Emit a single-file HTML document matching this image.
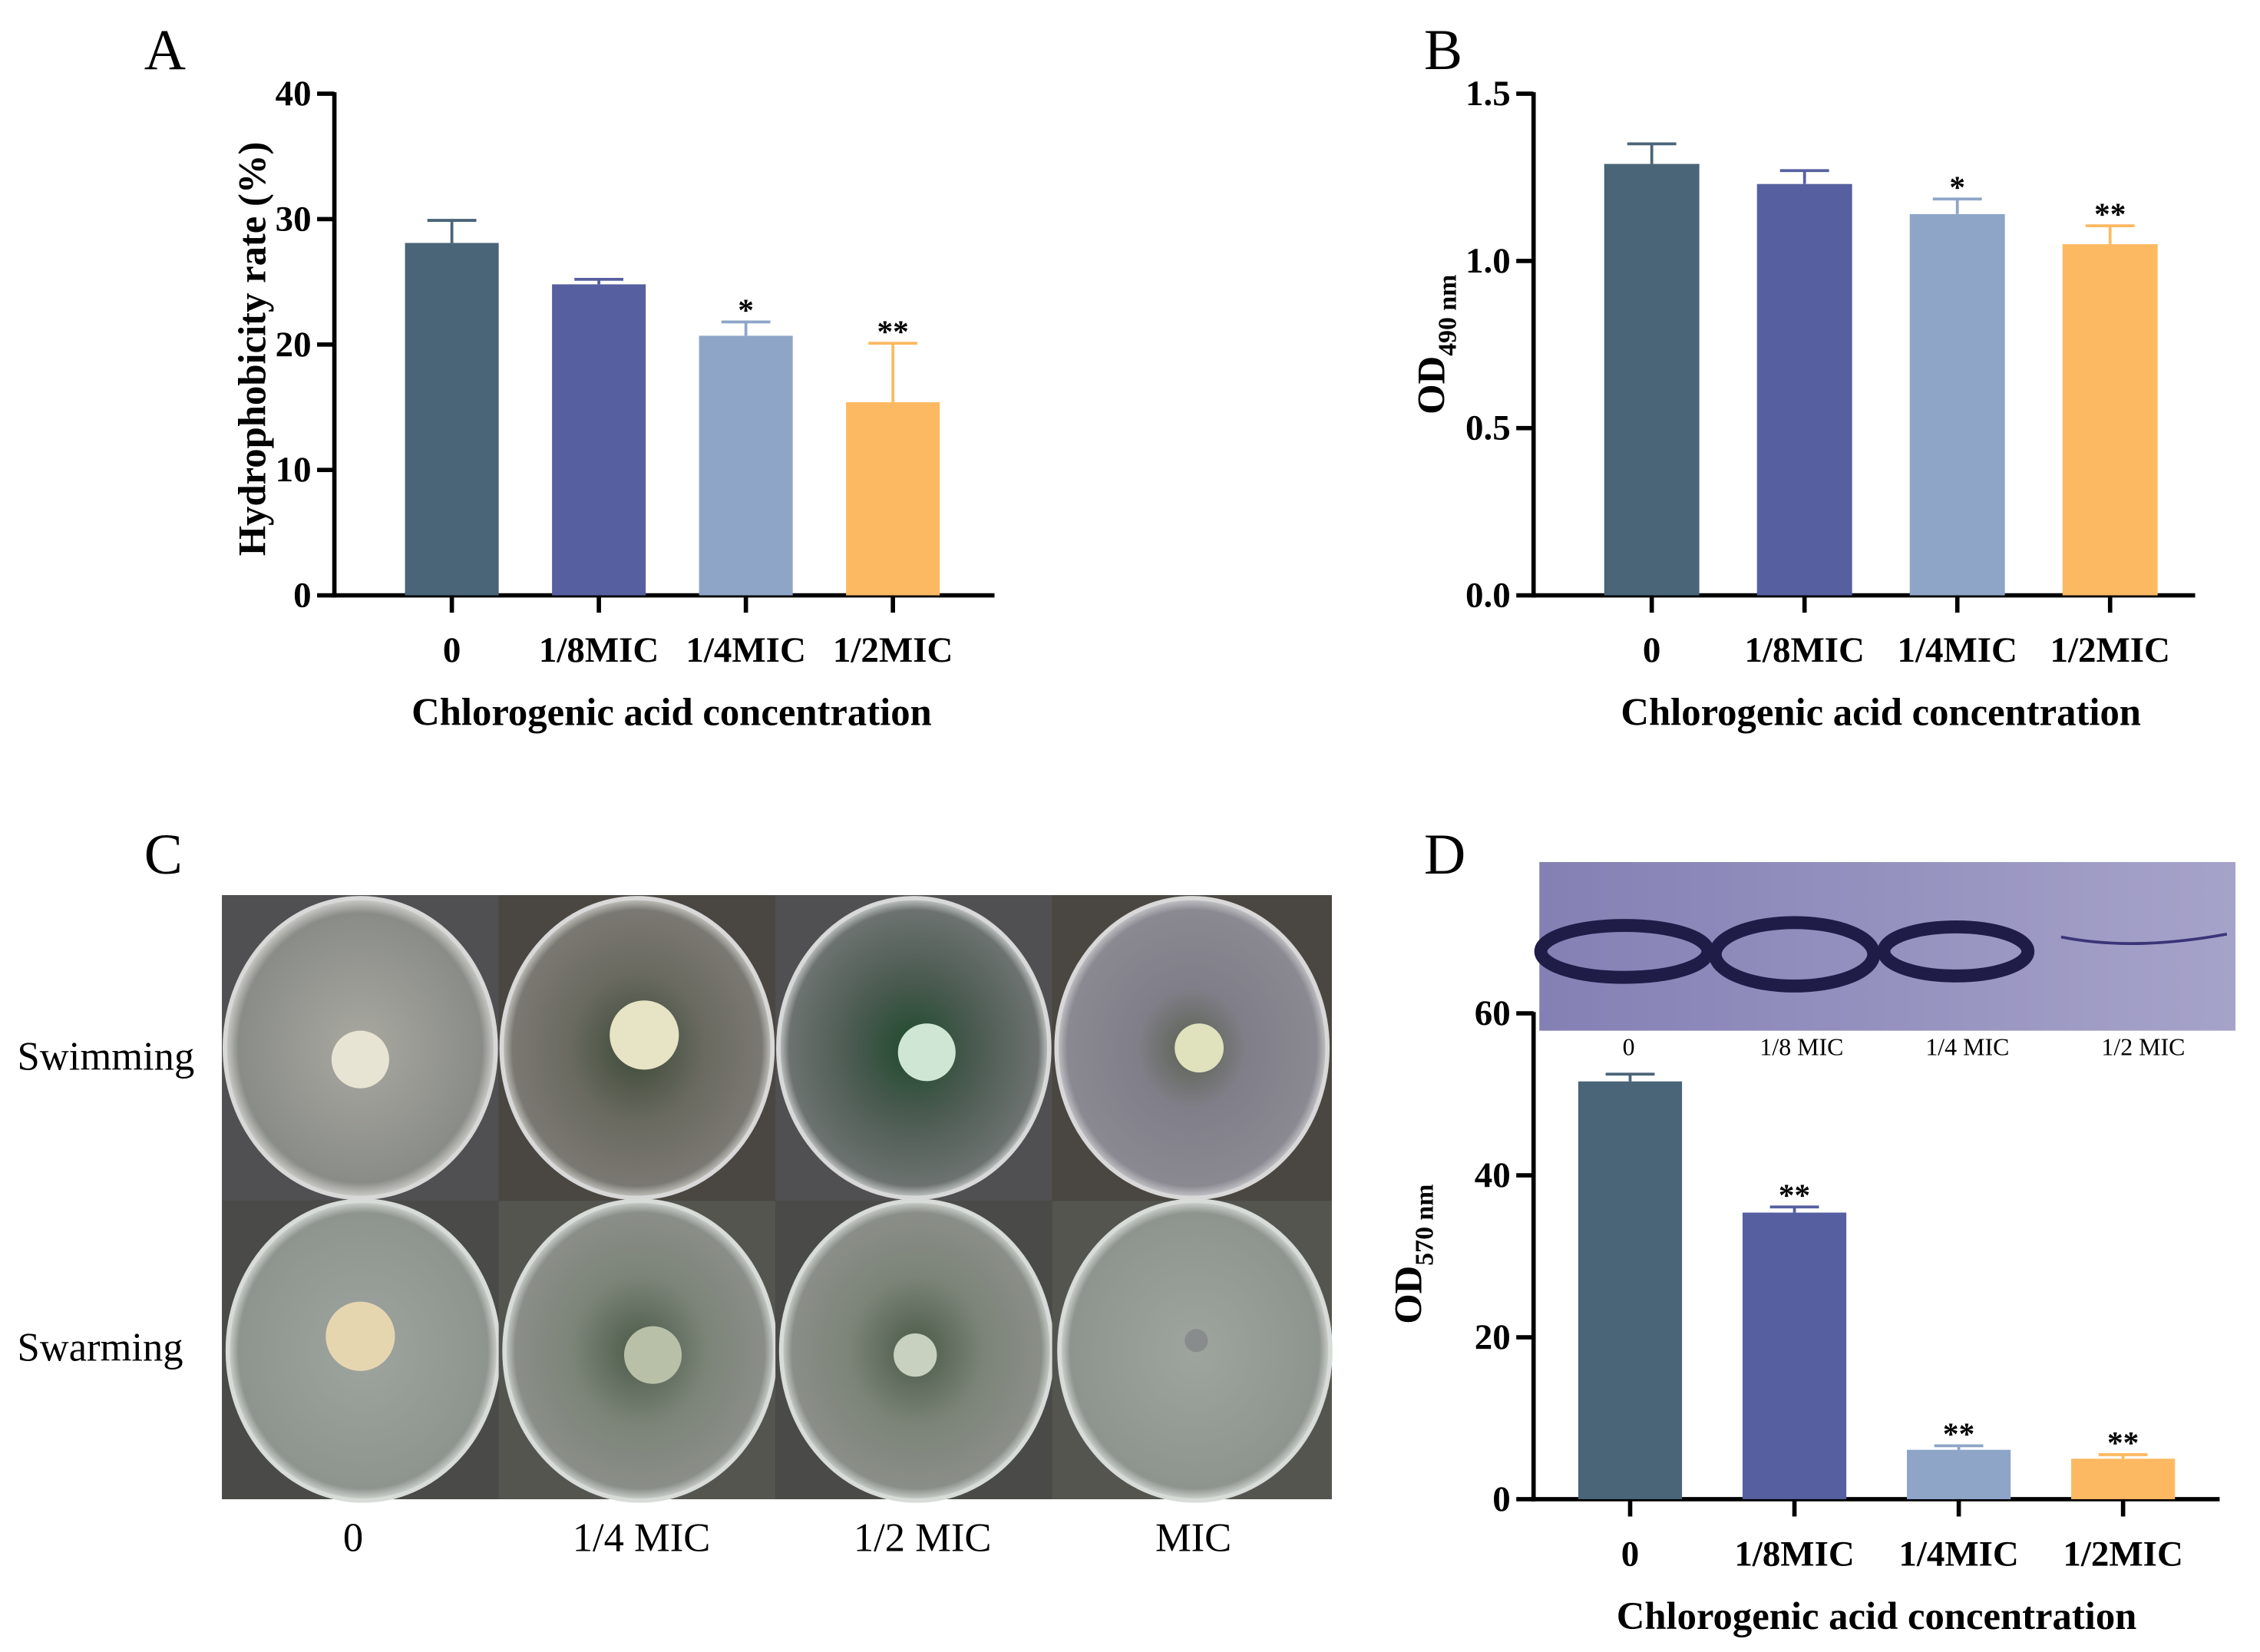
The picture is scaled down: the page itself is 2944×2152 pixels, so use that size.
<!DOCTYPE html>
<html><head><meta charset="utf-8"><style>
html,body{margin:0;padding:0;background:#fff}
svg{display:block}
text{font-family:"Liberation Serif",serif}
.t{font-weight:bold;font-size:25px}
.tl{font-weight:bold;font-size:22px}
.at{font-weight:bold;font-size:27px}
.pl{font-size:40px}
</style></head><body>
<svg id="svg" width="2944" height="2152" viewBox="0 0 1568 1146" preserveAspectRatio="none" xmlns="http://www.w3.org/2000/svg">
<defs>
<radialGradient id="dish1" cx="50%" cy="50%" r="50%"><stop offset="0" stop-color="#a8a8a0"/><stop offset="0.9" stop-color="#8a8c88"/><stop offset="1" stop-color="#d0d0cc"/></radialGradient>
<radialGradient id="dish2" cx="50%" cy="50%" r="50%"><stop offset="0" stop-color="#3c4a38"/><stop offset="0.5" stop-color="#6a6a60"/><stop offset="0.92" stop-color="#7a7872"/><stop offset="1" stop-color="#c8c8c4"/></radialGradient>
<radialGradient id="dish3" cx="50%" cy="50%" r="50%"><stop offset="0" stop-color="#1e4a2c"/><stop offset="0.45" stop-color="#4a5a50"/><stop offset="0.92" stop-color="#6c7270"/><stop offset="1" stop-color="#c8cccc"/></radialGradient>
<radialGradient id="dish4" cx="50%" cy="50%" r="50%"><stop offset="0" stop-color="#5a6050"/><stop offset="0.4" stop-color="#807e88"/><stop offset="0.92" stop-color="#8a8890"/><stop offset="1" stop-color="#c8c8cc"/></radialGradient>
<radialGradient id="dishS" cx="50%" cy="50%" r="50%"><stop offset="0" stop-color="#9ea49e"/><stop offset="0.92" stop-color="#8e948e"/><stop offset="1" stop-color="#d4d8d4"/></radialGradient>
<radialGradient id="dishS2" cx="50%" cy="50%" r="50%"><stop offset="0" stop-color="#4a5a48"/><stop offset="0.5" stop-color="#7c8478"/><stop offset="0.92" stop-color="#8a8e88"/><stop offset="1" stop-color="#d0d4d0"/></radialGradient>
<linearGradient id="strip" x1="0" x2="1"><stop offset="0" stop-color="#8480b4"/><stop offset="1" stop-color="#a6a3ca"/></linearGradient>
</defs>
<g id="root"></g>
</svg>
<script>
const cats = ["0","1/8MIC","1/4MIC","1/2MIC"];
const colors = ["#4a6478","#5660a0","#8ea5c8","#fdb962"];
const valsA = [28.1, 24.8, 20.7, 15.4];
const errA = [1.8, 0.4, 1.1, 4.7];
const sigA = ["", "", "*", "**"];
const ticksA = [0,10,20,30,40];
const valsB = [1.29, 1.23, 1.14, 1.05];
const errB = [0.06, 0.04, 0.045, 0.055];
const sigB = ["", "", "*", "**"];
const ticksB = [0,0.5,1.0,1.5];
const tickLabB = ["0.0","0.5","1.0","1.5"];
const valsD = [51.6, 35.4, 6.1, 5.0];
const errD = [0.9, 0.7, 0.5, 0.5];
const sigD = ["", "**", "**", "**"];
const ticksD = [0,20,40,60];

const NS="http://www.w3.org/2000/svg";
const root=document.getElementById('root');
function el(tag,attrs,parent,txt){const e=document.createElementNS(NS,tag);for(const k in attrs)e.setAttribute(k,attrs[k]);if(txt!==undefined)e.textContent=txt;(parent||root).appendChild(e);return e;}

function chart(cfg){
  const g=el('g',{});
  
  
  const y=v=>cfg.y0-(v-cfg.min)/(cfg.max-cfg.min)*(cfg.y0-cfg.yTop);
  const ya=el('line',{x1:cfg.ax,y1:cfg.yTop-1,x2:cfg.ax,y2:cfg.y0+1.5,stroke:'#000','stroke-width':3},g);
  
  
  const xa=el('line',{x1:cfg.ax-1.5,y1:cfg.y0,x2:cfg.xEnd,y2:cfg.y0,stroke:'#000','stroke-width':3},g);
  
  
  cfg.ticks.forEach((t,i)=>{
    el('line',{x1:cfg.ax-12,y1:y(t),x2:cfg.ax,y2:y(t),stroke:'#000','stroke-width':3},g);
    const tl=el('text',{x:cfg.ax-16,y:y(t)+8,'text-anchor':'end',class:'t'},g,cfg.tickLabels?cfg.tickLabels[i]:String(t));
    
    
  });
  cfg.vals.forEach((v,i)=>{
    const x0=cfg.bx0+i*cfg.step, cx=x0+cfg.bw/2;
    const b=el('rect',{x:x0,y:y(v),width:cfg.bw,height:cfg.y0-y(v),fill:colors[i]},g);
    
    
    const ye=y(v+cfg.err[i]);
    el('line',{x1:cx,y1:y(v),x2:cx,y2:ye,stroke:colors[i],'stroke-width':2},g);
    const eb=el('line',{x1:cx-17,y1:ye,x2:cx+17,y2:ye,stroke:colors[i],'stroke-width':2},g);
    
    
    if(cfg.sig[i]){const s=el('text',{x:cx,y:ye-1,'text-anchor':'middle',class:'tl','font-size':'20'},g,cfg.sig[i]);
      
      }
    el('line',{x1:cx,y1:cfg.y0,x2:cx,y2:cfg.y0+12,stroke:'#000','stroke-width':3},g);
    const cl=el('text',{x:cx,y:cfg.y0+46,'text-anchor':'middle',class:'t','font-size':'29'},g,cats[i]);
    
    
  });
  const xt=el('text',{x:cfg.xtx,y:cfg.y0+90,'text-anchor':'middle',class:'at','font-size':'28'},g,'Chlorogenic acid concentration');
  
  
  const ytt=el('text',{x:0,y:0,'text-anchor':'middle',class:'at',transform:`translate(${cfg.ytx},${cfg.yty}) rotate(-90)`},g);
  
  
  if(cfg.sub){ytt.textContent='OD';const ts=document.createElementNS(NS,'tspan');ts.setAttribute('font-size','18');ts.setAttribute('dy','8');ts.textContent=cfg.sub;ytt.appendChild(ts);}
  else ytt.textContent=cfg.ytitle;
}

chart({name:'chart-a-hydrophobicity',ax:232,yTop:65,y0:413,min:0,max:40,xEnd:690,bx0:281,bw:65,step:102,vals:valsA,err:errA,sig:sigA,ticks:ticksA,xtx:466,ytx:184,yty:242,ytitle:'Hydrophobicity rate (%)'});
chart({name:'chart-b-od490',ax:1064,yTop:65,y0:413,min:0,max:1.5,xEnd:1523,bx0:1113,bw:66,step:106,vals:valsB,err:errB,sig:sigB,ticks:ticksB,tickLabels:tickLabB,xtx:1305,ytx:1002,yty:239,sub:'490 nm'});
chart({name:'chart-d-od570',ax:1064,yTop:703,y0:1040,min:0,max:60,xEnd:1540,bx0:1095,bw:72,step:114,vals:valsD,err:errD,sig:sigD,ticks:ticksD,xtx:1302,ytx:986,yty:870,sub:'570 nm'});

[["A",100,48],["B",988,48],["C",100,606],["D",988,606]].forEach(p=>{
  const t=el('text',{x:p[1],y:p[2],class:'pl'},root,p[0]);
  
  
});

const pc=el('g',{});


el('rect',{x:154,y:621,width:770,height:419,fill:'#3a3a3c'},pc);
const colX=[154,346,538,730], colW=[192,192,192,194];
const swimFill=['url(#dish1)','url(#dish2)','url(#dish3)','url(#dish4)'];
const swarmFill=['url(#dishS)','url(#dishS2)','url(#dishS2)','url(#dishS)'];
const swimCol=[[250,735,'#e8e4d4',20],[447,718,'#e6e4c4',24],[643,730,'#cfe6d4',20],[832,727,'#dfe2bc',17]];
const swarmCol=[[250,927,'#e6d6b0',24],[453,940,'#b8c0a8',20],[635,940,'#c8d0c0',15],[830,930,'#888c8c',8]];
for(let i=0;i<4;i++){
  el('rect',{x:colX[i],y:621,width:colW[i],height:212,fill:i%2?'#4a4642':'#505052'},pc);
  el('rect',{x:colX[i],y:833,width:colW[i],height:207,fill:i%2?'#555550':'#4a4a48'},pc);
  el('ellipse',{cx:colX[i]+colW[i]/2,cy:727,rx:94,ry:104,fill:swimFill[i],stroke:'#d8d8d8','stroke-width':3},pc);
  el('ellipse',{cx:colX[i]+colW[i]/2+2,cy:937,rx:94,ry:104,fill:swarmFill[i],stroke:'#d8dcd8','stroke-width':3},pc);
  el('circle',{cx:swimCol[i][0],cy:swimCol[i][1],r:swimCol[i][3],fill:swimCol[i][2]},pc);
  el('circle',{cx:swarmCol[i][0],cy:swarmCol[i][1],r:swarmCol[i][3],fill:swarmCol[i][2]},pc);
}
[["Swimming",12,742],["Swarming",12,944]].forEach(p=>{
  const t=el('text',{x:p[1],y:p[2],'font-size':'28'},root,p[0]);
  
  
});
[["0",245],["1/4 MIC",445],["1/2 MIC",640],["MIC",828]].forEach(p=>{
  const t=el('text',{x:p[1],y:1076,'text-anchor':'middle','font-size':'28'},root,p[0]);
  
  
});

const st=el('g',{});


el('rect',{x:1068,y:598,width:483,height:117,fill:'url(#strip)'},st);
[[1127,660,58,18],[1245,662,55,22],[1357,660,50,17]].forEach(r=>{
  el('ellipse',{cx:r[0],cy:r[1],rx:r[2],ry:r[3],fill:'none',stroke:'#201c48','stroke-width':9},st);
});
el('path',{d:'M1430 650 Q1480 660 1545 648',fill:'none',stroke:'#3a3478','stroke-width':2},st);
[["0",1130],["1/8 MIC",1250],["1/4 MIC",1365],["1/2 MIC",1487]].forEach(p=>{
  const t=el('text',{x:p[1],y:732,'text-anchor':'middle','font-size':'17'},root,p[0]);
  
  
});
</script>
</body></html>
